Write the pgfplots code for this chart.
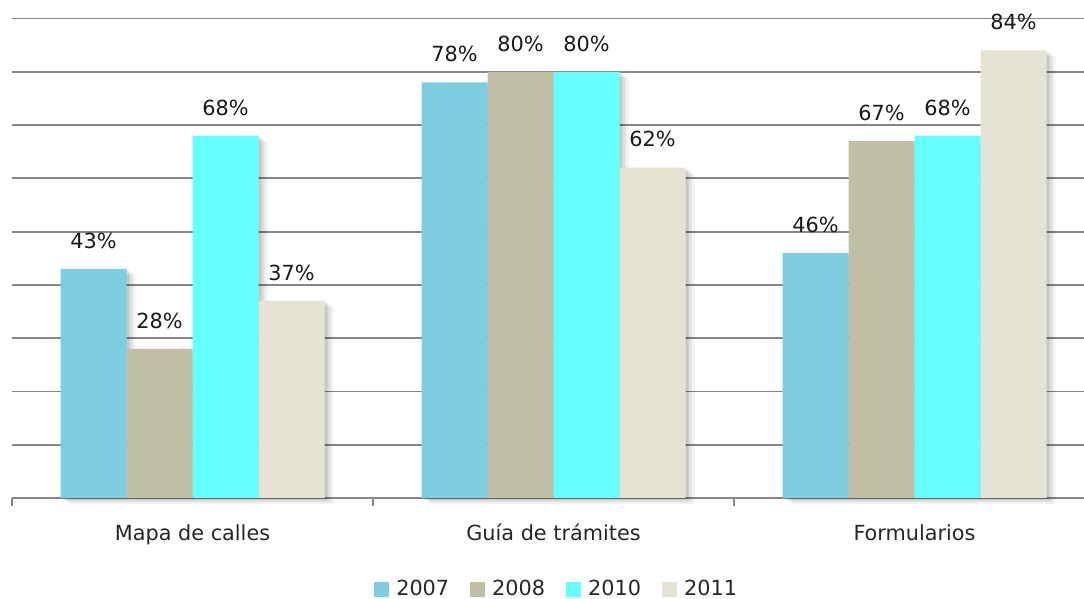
\documentclass[border=0pt]{standalone}
\usepackage{fontspec}
\setmainfont{DejaVu Sans}
\usepackage{pgfplots}
\pgfplotsset{compat=1.18}

\definecolor{c2007}{RGB}{127,205,224}
\definecolor{c2008}{RGB}{192,190,164}
\definecolor{c2010}{RGB}{102,255,255}
\definecolor{c2011}{RGB}{229,227,211}
\definecolor{gridgray}{RGB}{134,134,134}

% soft grey shadow to the right of each bar
\tikzset{bshadow/.style={
    preaction={fill=black, fill opacity=0.10, transform canvas={xshift=1.5pt, yshift=-1pt}},
    preaction={fill=black, fill opacity=0.08, transform canvas={xshift=3pt, yshift=-2pt}},
    preaction={fill=black, fill opacity=0.05, transform canvas={xshift=4.5pt, yshift=-3pt}}}}

\begin{document}
\fontsize{10.4}{12.5}\selectfont
\begin{tikzpicture}
% page = 1084x599 px at 0.5pt per px; axis box from x=12px, y=498px
\useasboundingbox (-6pt,-50.5pt) rectangle (536pt,249pt);
\begin{axis}[
    at={(0pt,0pt)}, anchor=south west,
    scale only axis,
    width=536pt, height=239.75pt,
    xmin=-0.5, xmax=2.4695,
    ymin=0, ymax=90,
    ybar=0pt, bar width=33pt,
    clip=false,
    axis x line*=bottom, axis y line*=left,
    y axis line style={draw=none},
    x axis line style={gridgray, line width=0.9pt},
    ytick={10,20,...,90}, yticklabels={},
    ytick style={draw=none},
    ymajorgrids, grid style={gridgray, line width=0.9pt},
    xtick={0,1,2},
    xticklabels={Mapa de calles, Guía de trámites, Formularios},
    major x tick style={draw=none},
    minor xtick={-0.5,0.5,1.5},
    minor x tick style={gridgray, line width=0.9pt},
    minor tick length=4pt, major tick length=0pt,
    tick align=outside,
    xticklabel style={yshift=-9.5pt, text=black!85},
    /pgf/number format/assume math mode=true,
    nodes near coords={\pgfmathprintnumber{\pgfplotspointmeta}\%},
    every node near coord/.append style={text=black!90, inner sep=0pt, yshift=10pt},
    legend columns=4,
    legend style={draw=none, fill=none, inner sep=0pt,
        at={(0.509,-0.191)}, anchor=center,
        nodes={text=black!85},
        /tikz/every odd column/.append style={column sep=1.5pt},
        /tikz/every even column/.append style={column sep=8.5pt}},
    legend image code/.code={\fill[#1] (0pt,-3.75pt) rectangle (7.5pt,3.75pt);},
]
\addlegendimage{fill=c2007, draw=none}\addlegendentry{2007}
\addlegendimage{fill=c2008, draw=none}\addlegendentry{2008}
\addlegendimage{fill=c2010, draw=none}\addlegendentry{2010}
\addlegendimage{fill=c2011, draw=none}\addlegendentry{2011}
\addplot[fill=c2007, draw=none, bshadow, bar shift=-49.5pt, forget plot] coordinates {(0,43) (1,78) (2,46)};
\addplot[fill=c2008, draw=none, bshadow, bar shift=-16.5pt, forget plot] coordinates {(0,28) (1,80) (2,67)};
\addplot[fill=c2010, draw=none, bshadow, bar shift=16.5pt, forget plot] coordinates {(0,68) (1,80) (2,68)};
\addplot[fill=c2011, draw=none, bshadow, bar shift=49.5pt, forget plot] coordinates {(0,37) (1,62) (2,84)};
\end{axis}
\end{tikzpicture}
\end{document}
